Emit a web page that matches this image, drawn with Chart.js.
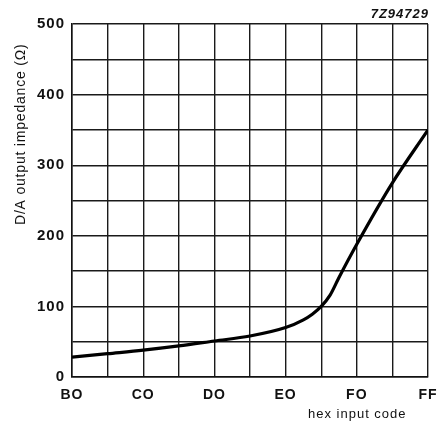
<!DOCTYPE html>
<html>
<head>
<meta charset="utf-8">
<script src="https://cdn.jsdelivr.net/npm/chart.js@4/dist/chart.umd.min.js"></script>
<style>
  html, body { margin: 0; padding: 0; background: #fff; }
  #wrap { width: 442px; height: 425px; }
</style>
</head>
<body>
<div id="wrap"><canvas id="c" width="442" height="425"></canvas></div>
<script>
// x positions in grid divisions (B0 = 0 ... FF = 10)
const xDivisions = [0, 1, 2, 3, 4, 5, 6, 6.5, 6.75, 7, 7.25, 7.5, 8, 9, 10];
// D/A output impedance (Ω)
const impedance = [28, 33, 38, 44, 51, 58, 70, 81, 89, 100, 116, 141, 188, 275, 350];
// hex input code labels at grid divisions
const xTickLabels = ['BO', '', 'CO', '', 'DO', '', 'EO', '', 'FO', '', 'FF'];
const yTickLabels = { 0: '0', 100: '100', 200: '200', 300: '300', 400: '400', 500: '500' };

const yTitle = 'D/A output impedance (\u03A9)';
const xTitle = 'hex input code';
const figId = '7Z94729';

const points = xDivisions.map((x, i) => ({ x: x, y: impedance[i] }));

const textPlugin = {
  id: 'texts',
  beforeDraw(chart) {
    chart.ctx.letterSpacing = '1px';
  },
  afterDraw(chart) {
    const ctx = chart.ctx;
    ctx.save();
    ctx.fillStyle = '#111';
    ctx.letterSpacing = '1px';
    ctx.font = 'italic bold 13px "Liberation Sans", Arial, sans-serif';
    ctx.textAlign = 'right';
    ctx.textBaseline = 'alphabetic';
    ctx.fillText(figId, 429, 18);
    ctx.font = '13px "Liberation Sans", Arial, sans-serif';
    ctx.textAlign = 'left';
    ctx.fillText(xTitle, 308, 418);
    ctx.translate(25, 225);
    ctx.rotate(-Math.PI / 2);
    ctx.letterSpacing = '0.8px';
    ctx.font = '14px "Liberation Sans", Arial, sans-serif';
    ctx.textAlign = 'left';
    ctx.fillText(yTitle, 0, 0);
    ctx.restore();
  }
};

new Chart(document.getElementById('c'), {
  type: 'line',
  data: {
    datasets: [{
      data: points,
      borderColor: '#000',
      borderWidth: 3.2,
      pointRadius: 0,
      fill: false,
      cubicInterpolationMode: 'monotone'
    }]
  },
  options: {
    responsive: false,
    animation: false,
    devicePixelRatio: 1,
    layout: { padding: { left: 0, top: 24, right: 14, bottom: 0 } },
    plugins: { legend: { display: false }, tooltip: { enabled: false } },
    scales: {
      x: {
        type: 'linear',
        min: 0,
        max: 10,
        afterFit(s) { s.height = 48; s.paddingRight = 0; s.paddingLeft = 0; },
        border: { display: true, color: '#111', width: 1.5 },
        grid: { color: '#1a1a1a', lineWidth: 1.4, drawTicks: false },
        ticks: {
          stepSize: 1,
          autoSkip: false,
          maxRotation: 0,
          padding: 10,
          color: '#111',
          font: { family: '"Liberation Sans", Arial, sans-serif', size: 14, weight: 'bold' },
          callback: (v) => xTickLabels[v] !== undefined ? xTickLabels[v] : ''
        }
      },
      y: {
        min: 0,
        max: 500,
        afterFit(s) { s.width = 72; s.paddingTop = 0; s.paddingBottom = 0; },
        border: { display: true, color: '#111', width: 1.5 },
        grid: { color: '#1a1a1a', lineWidth: 1.4, drawTicks: false },
        ticks: {
          stepSize: 50,
          autoSkip: false,
          padding: 7,
          color: '#111',
          font: { family: '"Liberation Sans", Arial, sans-serif', size: 15, weight: 'bold' },
          callback: (v) => yTickLabels[v] !== undefined ? yTickLabels[v] : ''
        }
      }
    }
  },
  plugins: [textPlugin]
});
</script>
</body>
</html>
